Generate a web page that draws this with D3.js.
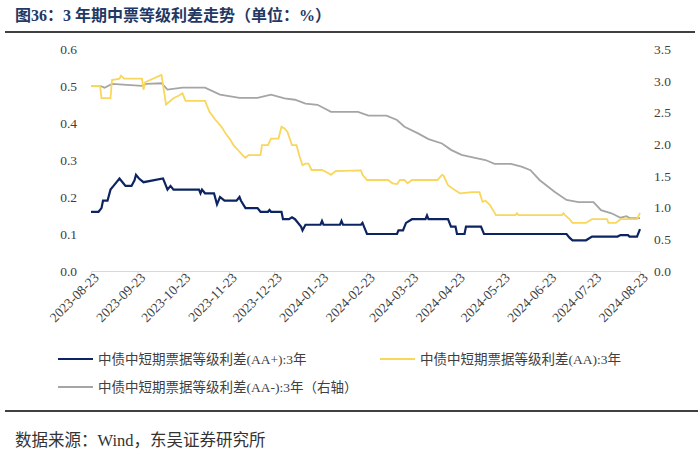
<!DOCTYPE html>
<html>
<head>
<meta charset="utf-8">
<script src="https://cdn.jsdelivr.net/npm/d3@7"></script>
<style>
	body { margin: 0; background: #fff; }
	svg text { font-family: "Liberation Serif", "Noto Sans CJK SC", serif; }
</style>
</head>
<body>
<svg id="chart" width="700" height="453"></svg>
<script>
// 中债中短期票据等级利差 (%)
let aaPlus = [
	["2023-08-23",0.16],["2023-08-28",0.16],["2023-08-30",0.17],["2023-08-31",0.19],["2023-09-03",0.19],
	["2023-09-05",0.22],["2023-09-07",0.23],["2023-09-11",0.25],["2023-09-13",0.24],["2023-09-15",0.23],
	["2023-09-19",0.23],["2023-09-21",0.245],["2023-09-22",0.26],["2023-09-24",0.25],["2023-09-27",0.24],
	["2023-10-10",0.25],["2023-10-11",0.24],["2023-10-13",0.22],["2023-10-15",0.23],["2023-10-17",0.22],
	["2023-11-03",0.22],["2023-11-04",0.21],["2023-11-05",0.22],["2023-11-07",0.21],["2023-11-13",0.21],
	["2023-11-15",0.18],["2023-11-17",0.20],["2023-11-20",0.19],["2023-11-28",0.19],["2023-11-30",0.20],
	["2023-12-01",0.19],["2023-12-04",0.17],["2023-12-12",0.17],["2023-12-14",0.16],["2023-12-19",0.16],
	["2023-12-20",0.165],["2023-12-21",0.16],["2023-12-28",0.16],["2023-12-29",0.14],["2024-01-02",0.14],
	["2024-01-04",0.145],["2024-01-06",0.14],["2024-01-10",0.12],["2024-01-11",0.11],["2024-01-13",0.125],
	["2024-01-23",0.125],["2024-01-24",0.135],["2024-01-25",0.125],["2024-02-05",0.125],["2024-02-06",0.135],
	["2024-02-07",0.125],["2024-02-19",0.125],["2024-02-20",0.13],["2024-02-21",0.12],["2024-02-23",0.10],
	["2024-03-14",0.10],["2024-03-15",0.11],["2024-03-18",0.11],["2024-03-20",0.13],["2024-03-24",0.14],
	["2024-04-02",0.14],["2024-04-03",0.15],["2024-04-04",0.14],["2024-04-17",0.14],["2024-04-19",0.12],
	["2024-04-22",0.12],["2024-04-23",0.10],["2024-04-28",0.10],["2024-04-29",0.12],["2024-05-09",0.12],
	["2024-05-11",0.10],["2024-07-05",0.10],["2024-07-07",0.09],["2024-07-09",0.083],["2024-07-18",0.083],
	["2024-07-22",0.093],["2024-08-08",0.093],["2024-08-10",0.097],["2024-08-15",0.097],["2024-08-16",0.093],
	["2024-08-21",0.093],["2024-08-23",0.113]
];

let aa = [
	["2023-08-23",0.50],["2023-08-29",0.50],["2023-08-30",0.467],["2023-09-05",0.467],["2023-09-06",0.516],
	["2023-09-11",0.52],["2023-09-12",0.528],["2023-09-14",0.52],["2023-09-26",0.52],["2023-09-27",0.49],
	["2023-09-28",0.51],["2023-10-09",0.53],["2023-10-12",0.45],["2023-10-17",0.467],["2023-10-21",0.475],
	["2023-10-23",0.48],["2023-10-25",0.46],["2023-11-07",0.46],["2023-11-10",0.43],["2023-11-14",0.408],
	["2023-11-18",0.39],["2023-11-21",0.37],["2023-11-24",0.354],["2023-11-26",0.34],["2023-11-29",0.327],
	["2023-12-02",0.313],["2023-12-04",0.306],["2023-12-06",0.313],["2023-12-14",0.313],["2023-12-15",0.34],
	["2023-12-19",0.34],["2023-12-21",0.358],["2023-12-26",0.358],["2023-12-28",0.39],["2023-12-30",0.385],
	["2024-01-01",0.376],["2024-01-04",0.34],["2024-01-07",0.34],["2024-01-09",0.31],["2024-01-11",0.286],
	["2024-01-13",0.29],["2024-01-15",0.29],["2024-01-17",0.273],["2024-01-24",0.273],["2024-01-28",0.265],
	["2024-01-30",0.26],["2024-02-02",0.27],["2024-02-19",0.272],["2024-02-20",0.26],["2024-02-23",0.246],
	["2024-03-08",0.246],["2024-03-11",0.237],["2024-03-14",0.235],["2024-03-16",0.246],["2024-03-19",0.246],
	["2024-03-21",0.237],["2024-03-24",0.246],["2024-04-10",0.246],["2024-04-13",0.26],["2024-04-14",0.258],
	["2024-04-17",0.232],["2024-04-21",0.22],["2024-04-25",0.21],["2024-05-03",0.213],["2024-05-08",0.213],
	["2024-05-10",0.187],["2024-05-12",0.19],["2024-05-15",0.178],["2024-05-19",0.151],["2024-06-01",0.151],
	["2024-06-02",0.156],["2024-06-03",0.151],["2024-07-02",0.151],["2024-07-03",0.156],["2024-07-04",0.151],
	["2024-07-07",0.14],["2024-07-09",0.13],["2024-07-18",0.13],["2024-07-22",0.14],["2024-08-01",0.14],
	["2024-08-02",0.13],["2024-08-07",0.13],["2024-08-10",0.14],["2024-08-21",0.14],["2024-08-23",0.157]
];

// AA- is on the right axis
let aaMinus = [
	["2023-08-23",2.92],["2023-08-29",2.92],["2023-09-01",2.89],["2023-09-06",2.95],["2023-09-26",2.92],
	["2023-09-29",2.95],["2023-10-09",2.96],["2023-10-13",2.86],["2023-10-23",2.89],["2023-11-07",2.89],
	["2023-11-17",2.78],["2023-11-30",2.73],["2023-12-12",2.73],["2023-12-21",2.78],["2023-12-30",2.72],
	["2024-01-06",2.70],["2024-01-13",2.64],["2024-01-21",2.62],["2024-01-30",2.51],["2024-02-17",2.51],
	["2024-02-24",2.45],["2024-03-07",2.45],["2024-03-14",2.38],["2024-03-19",2.275],["2024-03-28",2.17],
	["2024-04-04",2.08],["2024-04-13",2.01],["2024-04-19",1.91],["2024-04-26",1.83],["2024-05-05",1.785],
	["2024-05-12",1.75],["2024-05-18",1.69],["2024-05-29",1.69],["2024-06-05",1.645],["2024-06-11",1.59],
	["2024-06-17",1.435],["2024-06-27",1.25],["2024-07-05",1.12],["2024-07-13",1.085],["2024-07-23",1.085],
	["2024-07-28",0.96],["2024-08-04",0.91],["2024-08-10",0.84],["2024-08-14",0.865],["2024-08-16",0.835],
	["2024-08-23",0.835]
];

let xTicks	= ["2023-08-23","2023-09-23","2023-10-23","2023-11-23","2023-12-23","2024-01-23","2024-02-23",
			   "2024-03-23","2024-04-23","2024-05-23","2024-06-23","2024-07-23","2024-08-23"];
let leftTicks	= [0, 0.1, 0.2, 0.3, 0.4, 0.5, 0.6];
let rightTicks	= [0, 0.5, 1.0, 1.5, 2.0, 2.5, 3.0, 3.5];
let names	= ["中债中短期票据等级利差(AA+):3年", "中债中短期票据等级利差(AA):3年", "中债中短期票据等级利差(AA-):3年（右轴）"];
let colors	= ["#0c2461", "#f9d65c", "#a5a5a5"];

let parse	= d3.timeParse("%Y-%m-%d");
let svg		= d3.select("#chart");

let x	= d3.scaleTime().domain([parse(xTicks[0]), parse(xTicks[xTicks.length - 1])]).range([91, 640]);
let yL	= d3.scaleLinear().domain([0, 0.6]).range([271, 49]);
let yR	= d3.scaleLinear().domain([0, 3.5]).range([271, 49]);

// title
svg.append("text").attr("x", 15).attr("y", 21).style("font-size", "16px").style("font-weight", "bold")
	.style("fill", "#1f3864").text("图36：3 年期中票等级利差走势（单位：%）");
svg.append("line").attr("x1", 5).attr("x2", 695).attr("y1", 32).attr("y2", 32).style("stroke", "#000").style("stroke-width", 1.5);

// axes
let xAxis = svg.append("g").attr("transform", "translate(0,271)")
	.call(d3.axisBottom(x).tickValues(xTicks.map(parse)).tickFormat(d3.timeFormat("%Y-%m-%d")).tickSize(5).tickSizeOuter(0));
xAxis.select(".domain").style("stroke", "#d9d9d9");
xAxis.selectAll(".tick line").style("stroke", "#d9d9d9");
xAxis.selectAll(".tick text").attr("transform", "translate(5,4) rotate(-45)").attr("dy", "0.35em")
	.attr("y", 0).attr("x", 0).style("text-anchor", "end").style("font-size", "13.5px").style("fill", "#404040");

let left = svg.append("g").attr("transform", "translate(80,0)")
	.call(d3.axisLeft(yL).tickValues(leftTicks).tickFormat(d3.format(".1f")).tickSize(0));
left.select(".domain").remove();
left.selectAll("text").style("font-size", "13.5px").style("fill", "#404040").attr("x", -3);

let right = svg.append("g").attr("transform", "translate(652,0)")
	.call(d3.axisRight(yR).tickValues(rightTicks).tickFormat(d3.format(".1f")).tickSize(0));
right.select(".domain").remove();
right.selectAll("text").style("font-size", "13.5px").style("fill", "#404040").attr("x", 2);

// lines
let lineL = d3.line().x(d => x(parse(d[0]))).y(d => yL(d[1]));
let lineR = d3.line().x(d => x(parse(d[0]))).y(d => yR(d[1]));

svg.append("path").datum(aaMinus).attr("d", lineR).style("fill", "none").style("stroke", colors[2]).style("stroke-width", 1.8);
svg.append("path").datum(aa).attr("d", lineL).style("fill", "none").style("stroke", colors[1]).style("stroke-width", 1.8);
svg.append("path").datum(aaPlus).attr("d", lineL).style("fill", "none").style("stroke", colors[0]).style("stroke-width", 2.2);

// legend
let legendPos = [[58, 359], [380, 359], [58, 387]];
names.forEach((n, i) => {
	let g = svg.append("g").attr("transform", "translate(" + legendPos[i][0] + "," + legendPos[i][1] + ")");
	g.append("line").attr("x1", 0).attr("x2", 35).style("stroke", colors[i]).style("stroke-width", i == 0 ? 2.2 : 1.8);
	g.append("text").attr("x", 40).attr("dy", "0.35em").style("font-size", "13.5px").style("fill", "#404040").text(n);
});

svg.append("line").attr("x1", 5).attr("x2", 698).attr("y1", 411).attr("y2", 411).style("stroke", "#000").style("stroke-width", 1.5);
svg.append("text").attr("x", 15).attr("y", 446).style("font-size", "16.5px").style("fill", "#333")
	.text("数据来源：Wind，东吴证券研究所");
</script>
</body>
</html>
